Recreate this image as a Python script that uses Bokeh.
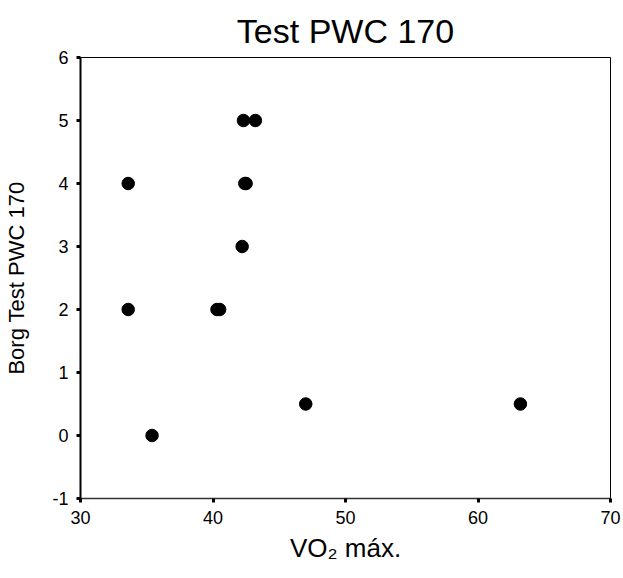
from bokeh.plotting import figure
from bokeh.models import ColumnDataSource, FixedTicker, Range1d, Title
from bokeh.embed import file_html
from bokeh.resources import INLINE

vo2_max = [33.6, 33.6, 35.4, 40.3, 40.5, 42.2, 42.4, 42.5, 42.3, 43.2, 47.0, 63.2]
borg = [4, 2, 0, 2, 2, 3, 4, 4, 5, 5, 0.5, 0.5]
x_ticks = [30, 40, 50, 60, 70]
y_ticks = [-1, 0, 1, 2, 3, 4, 5, 6]
title_text = "Test PWC 170"

FONT = "Liberation Sans"

p = figure(width=623, height=578, output_backend="svg", toolbar_location=None,
           x_range=Range1d(30, 70), y_range=Range1d(-1, 6),
           min_border_left=80, min_border_right=13, min_border_top=57, min_border_bottom=80,
           title=Title(text=title_text, align="center", standoff=15,
                       text_font=FONT, text_font_size="34px",
                       text_font_style="normal", text_color="black"))

src = ColumnDataSource(dict(x=vo2_max, y=borg))
p.scatter("x", "y", source=src, size=12.5, color="black", line_color="black")

p.grid.visible = False
p.outline_line_color = "black"
p.outline_line_width = 1
p.background_fill_color = "white"
p.border_fill_color = "white"

for ax in (p.xaxis[0], p.yaxis[0]):
    ax.major_label_text_font = FONT
    ax.major_label_text_font_size = "18px"
    ax.major_label_text_color = "black"
    ax.major_tick_line_width = 3
    ax.major_tick_line_color = "black"
    ax.major_tick_out = 4
    ax.major_tick_in = 0
    ax.minor_tick_line_color = None
    ax.axis_label_text_font = FONT
    ax.axis_label_text_font_style = "normal"
    ax.axis_label_text_color = "black"

p.xaxis.ticker = FixedTicker(ticks=x_ticks)
p.yaxis.ticker = FixedTicker(ticks=y_ticks)
p.yaxis.major_label_overrides = {t: str(t) for t in y_ticks}

p.yaxis.axis_line_width = 2
p.yaxis.axis_line_color = "black"
p.xaxis.axis_line_width = 1.5
p.xaxis.axis_line_color = "#333333"

p.yaxis.major_label_standoff = 8
p.xaxis.major_label_standoff = 8

p.yaxis.axis_label = "Borg Test PWC 170"
p.yaxis.axis_label_text_font_size = "22px"
p.yaxis.axis_label_standoff = 20

p.xaxis.axis_label = "VO\u2082 m\u00e1x."
p.xaxis.axis_label_text_font_size = "26px"
p.xaxis.axis_label_standoff = 6

open("out.html", "w").write(file_html(p, INLINE))
